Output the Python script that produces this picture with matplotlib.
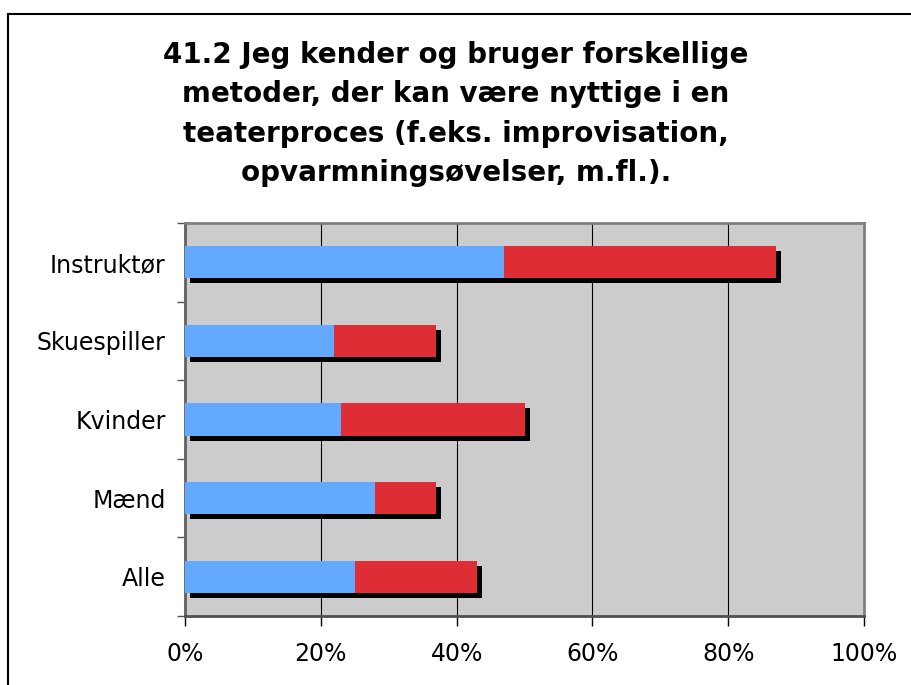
import matplotlib
matplotlib.use("Agg")
import matplotlib.pyplot as plt
from matplotlib.patches import Rectangle
from matplotlib.transforms import ScaledTranslation
import numpy as np

# data
categories = ['Instruktør', 'Skuespiller', 'Kvinder', 'Mænd', 'Alle']
blue_vals = [47, 22, 23, 28, 25]
red_vals = [40, 15, 27, 9, 18]
x_ticks = [0, 20, 40, 60, 80, 100]
x_tick_labels = ['0%', '20%', '40%', '60%', '80%', '100%']
title = ('41.2 Jeg kender og bruger forskellige\n'
         'metoder, der kan være nyttige i en\n'
         'teaterproces (f.eks. improvisation,\n'
         'opvarmningsøvelser, m.fl.).')

BLUE = '#63a9ff'
RED = '#de2d35'
BG = '#cccccc'

plt.rcParams['font.family'] = ['DejaVu Sans']

dpi = 100
fig = plt.figure(figsize=(9.12, 6.85), dpi=dpi)
ax = fig.add_axes([185 / 912, 1 - 616 / 685, 679 / 912, 393 / 685])

# outer chart border (runs off right and bottom edge)
fig.patches.append(Rectangle((8 / 912, -0.1), 1.2, 1 - 14 / 685 + 0.1,
                             transform=fig.transFigure, fill=False,
                             edgecolor='black', linewidth=1.5))

y = np.arange(len(categories))
h = 0.41
blue = np.array(blue_vals)
red = np.array(red_vals)

# shadow: same bars shifted 5px right and 5px down
shadow_tr = ax.transData + ScaledTranslation(5 / dpi, -5 / dpi, fig.dpi_scale_trans)
ax.barh(y, blue, height=h, color='black', transform=shadow_tr, zorder=2)
ax.barh(y, red, left=blue, height=h, color='black', transform=shadow_tr, zorder=2)

ax.barh(y, blue, height=h, color=BLUE, zorder=3)
ax.barh(y, red, left=blue, height=h, color=RED, zorder=3)

ax.set_xlim(0, 100)
ax.set_ylim(len(categories) - 0.5, -0.5)
ax.set_facecolor(BG)

ax.set_xticks(x_ticks)
ax.set_xticklabels(x_tick_labels)
ax.set_yticks(y)
ax.set_yticklabels(categories)
ax.set_yticks(np.arange(len(categories) + 1) - 0.5, minor=True)

ax.tick_params(axis='y', which='major', length=0, pad=14, labelsize=17)
ax.tick_params(axis='y', which='minor', length=6, width=1, color='#555555')
ax.tick_params(axis='x', length=7, width=1, color='black', pad=12, labelsize=17)

for v in x_ticks[1:-1]:
    ax.axvline(v, color='black', linewidth=0.8, zorder=1)

for s in ax.spines.values():
    s.set_color('#808080')
    s.set_linewidth(2)
ax.spines['left'].set_color('#606060')
ax.spines['bottom'].set_color('#505050')

fig.text(0.5, 1 - 114 / 685, title, ha='center', va='center',
         fontsize=20, fontweight='bold', linespacing=1.52)

fig.savefig('out.png', dpi=dpi)
